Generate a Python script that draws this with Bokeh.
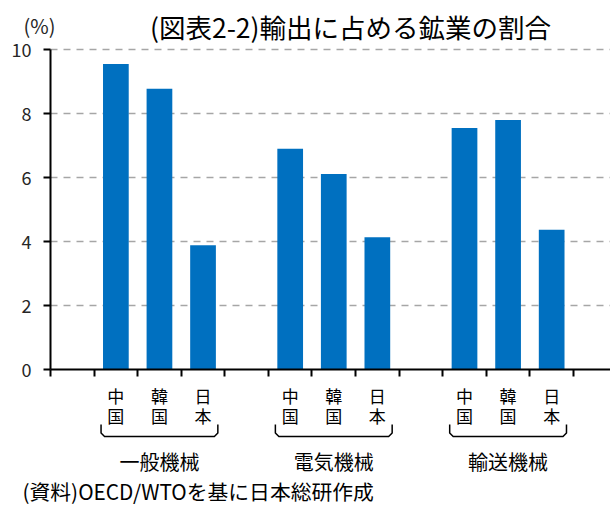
from bokeh.plotting import figure
from bokeh.models import ColumnDataSource, FixedTicker, Range1d
from bokeh.core.properties import value
from bokeh.embed import file_html
from bokeh.resources import INLINE

# ---------------- data ----------------
groups = ["一般機械", "電気機械", "輸送機械"]
countries = ["中国", "韓国", "日本"]
china = [9.55, 6.90, 7.55]
korea = [8.77, 6.11, 7.80]
japan = [3.88, 4.13, 4.37]
y_ticks = [0, 2, 4, 6, 8, 10]
title_text = "(図表2-2)輸出に占める鉱業の割合"
unit_text = "(%)"
source_text = "(資料)OECD/WTOを基に日本総研作成"

# ---------------- layout constants ----------------
FONT = "Noto Sans CJK JP"
SLOT = 4                    # slots per group: one gap + three countries
W, H = 610, 506
AXIS_X = 50                 # page x of the y axis
ZERO_Y = 369                # page y of value 0
PX_PER_Y = 32
X_END = 12.85
PX_PER_X = (W - AXIS_X) / X_END


def xpage(px):
    """data x for a page x"""
    return (px - AXIS_X) / PX_PER_X


def ypage(py):
    """data y for a page y"""
    return (ZERO_Y - py) / PX_PER_Y


series = [china, korea, japan]
xs, tops, names = [], [], []
for gi, g in enumerate(groups):
    for ci, c in enumerate(countries):
        xs.append(gi * SLOT + 1 + ci + 0.5)
        tops.append(series[ci][gi])
        names.append(c)
src = ColumnDataSource(dict(x=xs, top=tops, country=names))

p = figure(width=W, height=H, x_range=Range1d(xpage(0), xpage(W)),
           y_range=Range1d(ypage(H), ypage(0)), output_backend="svg",
           toolbar_location=None, title=None, min_border=0)
p.outline_line_color = None
p.background_fill_color = "white"
p.border_fill_color = "white"
p.grid.visible = False

# dashed gridlines from the axis to the right edge
grid_y = y_ticks[1:]
p.segment(x0=[0] * len(grid_y), x1=[X_END] * len(grid_y), y0=grid_y, y1=grid_y,
          line_color="#a6a6a6", line_width=1.5, line_dash="7 6")

p.vbar(x="x", top="top", bottom=0, width=0.59, source=src,
       fill_color="#0070C0", line_color=None)

# axes drawn at data locations inside the full-canvas frame
p.yaxis.fixed_location = 0
p.yaxis.bounds = (y_ticks[0], y_ticks[-1])
p.yaxis.ticker = FixedTicker(ticks=y_ticks)
p.yaxis.axis_line_width = 2
p.yaxis.axis_line_color = "black"
p.yaxis.major_tick_line_width = 2
p.yaxis.major_tick_line_color = "black"
p.yaxis.major_tick_in = 0
p.yaxis.major_tick_out = 7
p.yaxis.minor_tick_line_color = None
p.yaxis.major_label_standoff = 12
p.yaxis.major_label_text_font = FONT
p.yaxis.major_label_text_font_size = "18px"
p.yaxis.major_label_text_color = "#262626"

p.xaxis.fixed_location = 0
p.xaxis.bounds = (0, X_END)
p.xaxis.ticker = FixedTicker(ticks=list(range(0, len(groups) * SLOT + 2)))
p.xaxis.axis_line_width = 2
p.xaxis.axis_line_color = "black"
p.xaxis.major_tick_line_width = 2
p.xaxis.major_tick_line_color = "black"
p.xaxis.major_tick_in = 0
p.xaxis.major_tick_out = 7
p.xaxis.minor_tick_line_color = None
p.xaxis.major_label_standoff = 0
p.xaxis.major_label_text_font_size = "0px"
p.xaxis.major_label_text_color = None

# title and unit
p.text(x=[xpage(350)], y=[ypage(25.5)], text=[title_text], text_font=value(FONT),
       text_font_size="26.5px", text_color="black", text_align="center",
       text_baseline="middle")
p.text(x=[xpage(23)], y=[ypage(25)], text=[unit_text], text_font=value(FONT),
       text_font_size="20px", text_color="#262626", text_align="left",
       text_baseline="middle")

# country labels, one character per line
char_x, char_y, char_t = [], [], []
for x, name in zip(xs, names):
    for k, ch in enumerate(name):
        char_x.append(x)
        char_y.append(ypage(394.5 + 20.5 * k))
        char_t.append(ch)
p.text(x=char_x, y=char_y, text=char_t, text_font=value(FONT), text_font_size="17px",
       text_color="black", text_align="center", text_baseline="middle")

# group brackets and names
centers = [gi * SLOT + 1 + 1.5 for gi in range(len(groups))]
half = 1.34
r = 0.08
br_xs = [[c - half, c - half, c - half + r, c + half - r, c + half, c + half]
         for c in centers]
br_ys = [[ypage(424), ypage(432.5), ypage(436), ypage(436), ypage(432.5), ypage(424)]
         for _ in centers]
p.multi_line(xs=br_xs, ys=br_ys, line_color="black", line_width=1.5,
             line_join="round")
p.text(x=centers, y=[ypage(461)] * len(centers), text=groups, text_font=value(FONT),
       text_font_size="20px", text_color="black", text_align="center",
       text_baseline="middle")

# source
p.text(x=[xpage(22)], y=[ypage(490.5)], text=[source_text], text_font=value(FONT),
       text_font_size="20.8px", text_color="black", text_align="left",
       text_baseline="middle")

open("out.html", "w").write(file_html(p, INLINE))
